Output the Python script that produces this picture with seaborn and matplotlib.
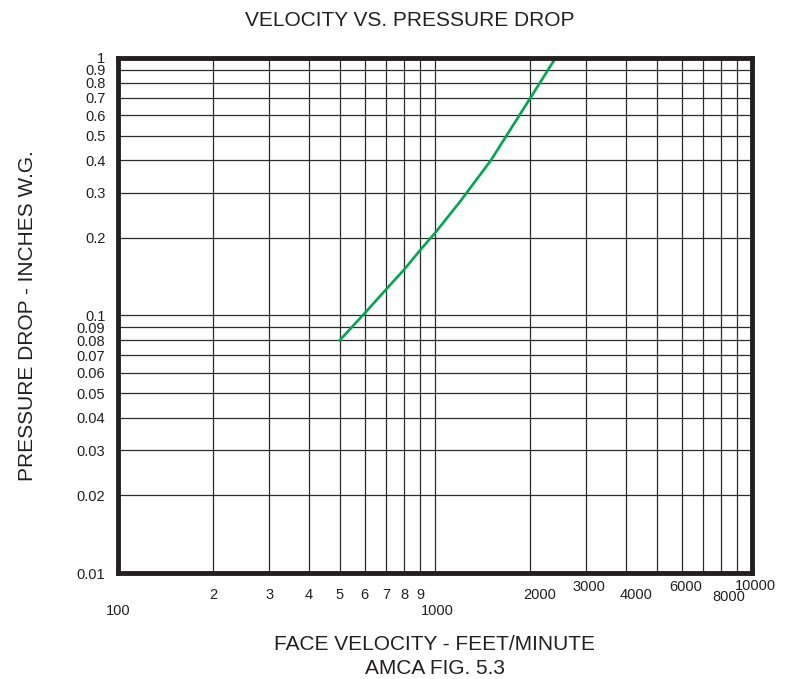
import numpy as np
import pandas as pd
import matplotlib
matplotlib.use("Agg")
import matplotlib.pyplot as plt
import matplotlib.transforms as mtransforms
import seaborn as sns

# curve (face velocity ft/min vs pressure drop in. w.g.)
velocity = [500, 600, 700, 800, 900, 1000, 1200, 1500, 2000, 2400]
pressure = [0.08, 0.102, 0.126, 0.151, 0.18, 0.209, 0.277, 0.40, 0.70, 1.0]

x_ticks = [100, 200, 300, 400, 500, 600, 700, 800, 900, 1000,
           2000, 3000, 4000, 5000, 6000, 7000, 8000, 9000, 10000]
x_labels = ["100", "2", "3", "4", "5", "6", "7", "8", "9", "1000",
            "2000", "3000", "4000", "", "6000", "", "8000", "", "10000"]
# the original staggers its x labels: shift (px right, px up) for each
x_label_dx = [0, 0, 0, 0, 0, 0, 0, 0, 0, 2,
              9, 3, 10, 0, 4, 0, 8, 0, 3]
x_label_dy = [-16, 0, 0, 0, 0, 0, 0, 0, 0, -16,
              0, 8, 0, 0, 8, 0, -2, 0, 9]

y_ticks = [0.01, 0.02, 0.03, 0.04, 0.05, 0.06, 0.07, 0.08, 0.09, 0.1,
           0.2, 0.3, 0.4, 0.5, 0.6, 0.7, 0.8, 0.9, 1]
y_labels = ["0.01", "0.02", "0.03", "0.04", "0.05", "0.06", "0.07", "0.08", "0.09", "0.1",
            "0.2", "0.3", "0.4", "0.5", "0.6", "0.7", "0.8", "0.9", "1"]

df = pd.DataFrame({"velocity": velocity, "pressure": pressure})

sns.set_style("white")
plt.rcParams["font.family"] = ["Liberation Sans", "DejaVu Sans"]

fig = plt.figure(figsize=(7.88, 6.79), dpi=100)
ax = fig.add_axes([0.1497, 0.1561, 0.8046, 0.7585])

sns.lineplot(data=df, x="velocity", y="pressure", color="#00a651", linewidth=1.9, ax=ax)

ax.set_xscale("log")
ax.set_yscale("log")
ax.set_xlim(100, 10000)
ax.set_ylim(0.01, 1)

ax.set_xticks(x_ticks)
ax.set_xticklabels(x_labels)
ax.xaxis.set_minor_locator(matplotlib.ticker.NullLocator())
ax.set_yticks(y_ticks)
ax.set_yticklabels(y_labels)
ax.yaxis.set_minor_locator(matplotlib.ticker.NullLocator())
ax.tick_params(axis="both", length=0, labelsize=10.5, colors="#231f20")
ax.tick_params(axis="x", pad=11)
ax.tick_params(axis="y", pad=9)

for lab, dx, dy in zip(ax.get_xticklabels(), x_label_dx, x_label_dy):
    off = mtransforms.ScaledTranslation(dx / 100, dy / 100, fig.dpi_scale_trans)
    lab.set_transform(lab.get_transform() + off)

ax.grid(True, which="major", color="#2b2b2b", linewidth=0.9)
for s in ax.spines.values():
    s.set_linewidth(3.5)
    s.set_color("#231f20")

ax.set_xlabel("FACE VELOCITY - FEET/MINUTE\nAMCA FIG. 5.3", fontsize=15,
              labelpad=12, color="#231f20", linespacing=1.35)
ax.set_ylabel("PRESSURE DROP - INCHES W.G.", fontsize=15, labelpad=29, color="#231f20")
ax.set_title("VELOCITY VS. PRESSURE DROP", fontsize=15, pad=23, color="#231f20", x=0.46)

fig.savefig("out.png", dpi=100)
